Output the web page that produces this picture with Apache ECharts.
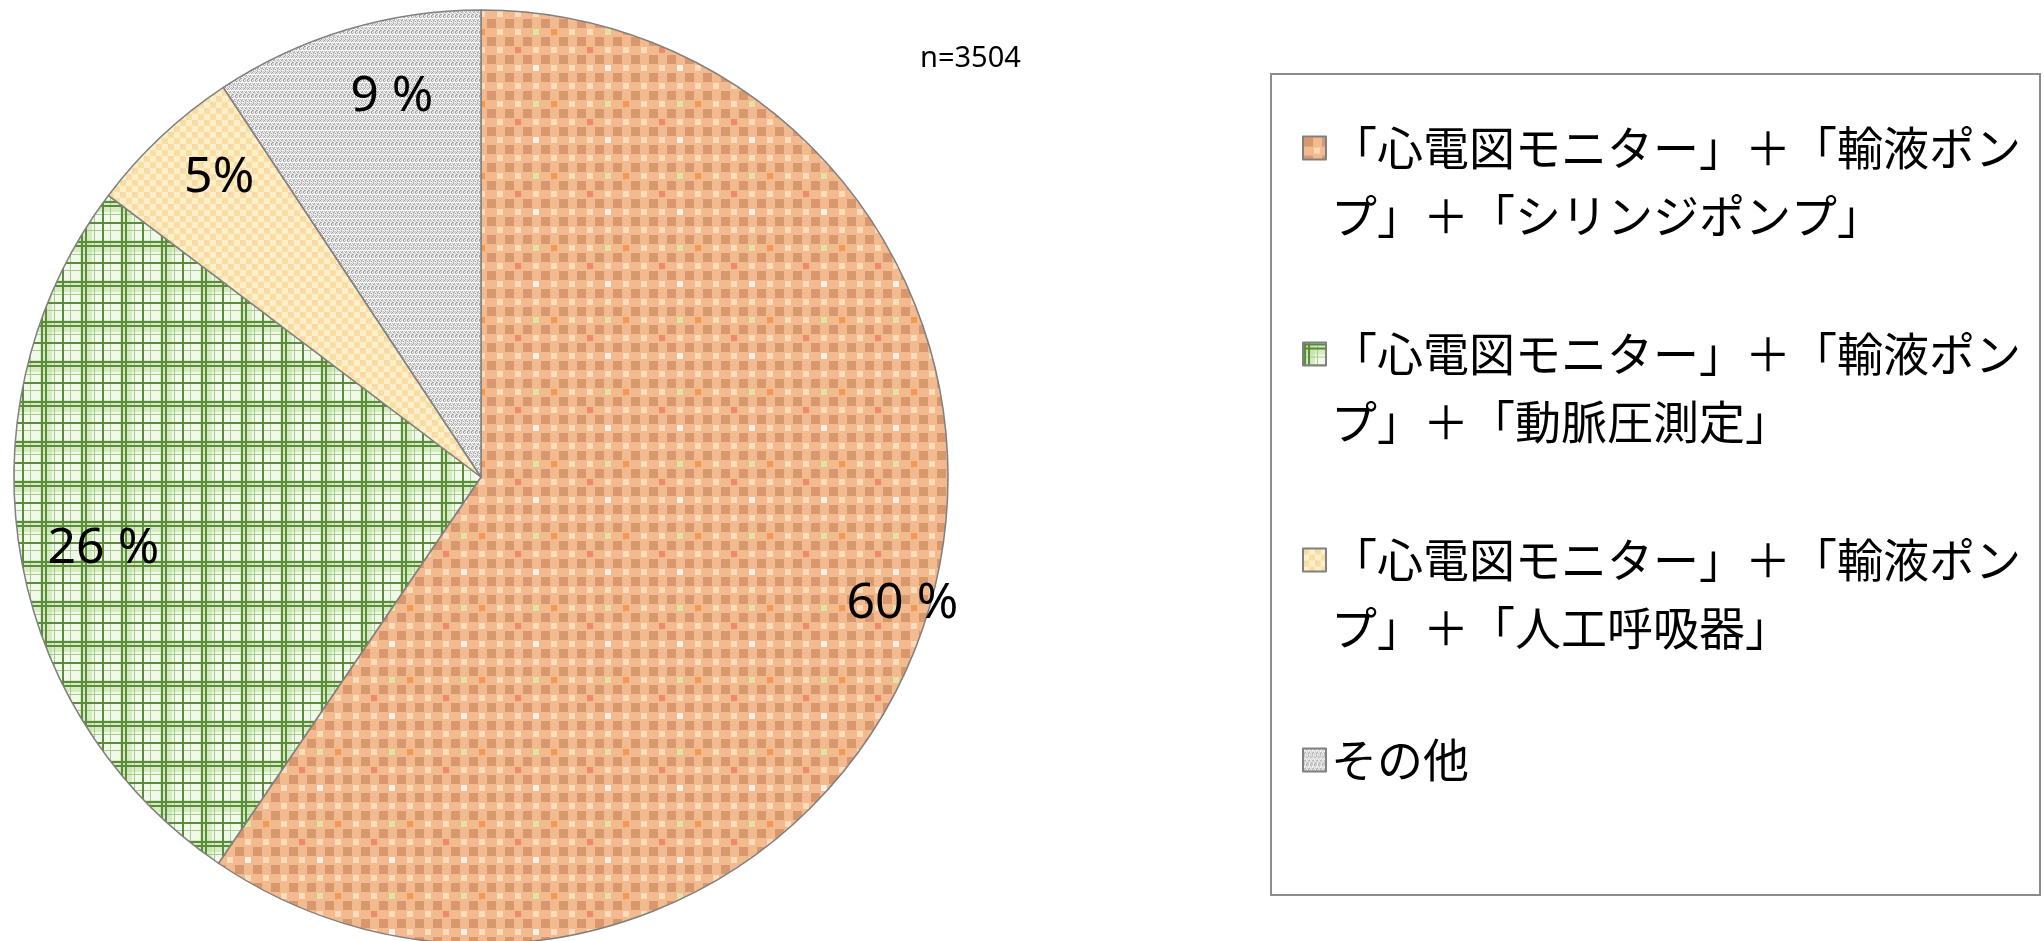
<!DOCTYPE html>
<html><head><meta charset="utf-8">
<script src="https://cdn.jsdelivr.net/npm/echarts@6/dist/echarts.min.js"></script>
<style>html,body{margin:0;padding:0;background:#fff}#c{width:2044px;height:941px}</style>
</head><body><div id="c"></div>
<script>
const categories = [
  '「心電図モニター」＋「輸液ポンプ」＋「シリンジポンプ」',
  '「心電図モニター」＋「輸液ポンプ」＋「動脈圧測定」',
  '「心電図モニター」＋「輸液ポンプ」＋「人工呼吸器」',
  'その他'
];
const values = [59.5, 25.8, 5.4, 9.3];
const valueLabels = ['60 %', '26 %', '5%', '9 %'];
const sampleNote = 'n=3504';
// label nudges (style only)
const labelOffsets = [[39, 9], [17, 7], [12, -8], [26, 3]];

function tile(w, h, draw) {
  const c = document.createElement('canvas');
  c.width = w; c.height = h;
  draw(c.getContext('2d'));
  return c;
}
const orangeTile = tile(72, 72, g => {
  g.fillStyle = '#f3b98f'; g.fillRect(0, 0, 72, 72);
  const accents = ['#fcdcba', '#fcdcba', '#f08a6a', '#fcdcba', '#fcdcba', '#dfe3a4', '#fcdcba', '#fff0e8', '#fcdcba', '#f39a52', '#fcdcba', '#fcdcba', '#fcdcba', '#fcdcba', '#fcdcba', '#fcdcba'];
  for (let i = 0; i < 4; i++) for (let j = 0; j < 4; j++) {
    g.fillStyle = '#d8986e'; g.fillRect(i * 18 + 1, j * 18 + 1, 9, 9);
    g.fillStyle = accents[i * 4 + j]; g.fillRect(i * 18 + 11, j * 18 + 11, 6, 6);
  }
});
const greenTile = tile(40, 40, g => {
  g.fillStyle = '#f1faea'; g.fillRect(0, 0, 40, 40);
  g.fillStyle = 'rgba(190,222,160,0.55)'; g.fillRect(0, 0, 12, 40); g.fillRect(0, 0, 40, 12);
  g.fillStyle = '#a6ca88'; [14, 30].forEach(p => { g.fillRect(p, 0, 1, 40); g.fillRect(0, p, 40, 1); });
  g.fillStyle = '#5a8a3a'; [1, 5, 22].forEach(p => { g.fillRect(p, 0, 2, 40); g.fillRect(0, p, 40, 2); });
});
const yellowTile = tile(12, 12, g => {
  g.fillStyle = '#fdf0c8'; g.fillRect(0, 0, 12, 12);
  g.fillStyle = '#f8dea2'; g.fillRect(0, 0, 6, 6); g.fillRect(6, 6, 6, 6);
  g.fillStyle = '#f9d4b4'; g.fillRect(0, 0, 3, 3);
});
const greyTile = tile(16, 16, g => {
  const m = [
    '0213021302130213','3102310231023102','0000000000000000','2031203120312031',
    '1320132013201320','0213021302130213','2200220022002200','0312031203120312',
    '3021302130213021','1203120312031203','0000000000000000','2130213021302130',
    '0321032103210321','1012101210121012','3300330033003300','2103210321032103'];
  const cols = ['#f8f8f8', '#e2e2e2', '#c6c6c6', '#a2a2a2'];
  for (let y = 0; y < 16; y++) for (let x = 0; x < 16; x++) {
    g.fillStyle = cols[+m[y][x]]; g.fillRect(x, y, 1, 1);
  }
});
const fills = [orangeTile, greenTile, yellowTile, greyTile].map(t => ({ image: t, repeat: 'repeat' }));

const pieData = categories.map((n, i) => ({ name: n, value: values[i], itemStyle: { color: fills[i] } }));
const labelData = categories.map((n, i) => ({ name: n, value: values[i], label: { offset: labelOffsets[i] } }));

const chart = echarts.init(document.getElementById('c'), null, { renderer: 'canvas' });
const LH = 68, FS = 46;
const legendFont = {
  fontFamily: 'Noto Sans CJK JP', fontSize: FS, lineHeight: LH, color: '#000',
  rich: { t: { fontFamily: 'Noto Sans CJK JP', fontSize: FS, lineHeight: LH, color: '#000' } }
};
chart.setOption({
  animation: false,
  title: {
    text: sampleNote, left: 915, top: 39,
    textStyle: { fontFamily: 'Noto Sans', fontSize: 29, fontWeight: 'normal', color: '#000' }
  },
  legend: {
    orient: 'vertical', left: 1297, top: 41, itemGap: 2,
    itemWidth: 23, itemHeight: 23, selectedMode: false,
    data: categories.map((n, i) => ({
      name: n, icon: 'rect',
      textStyle: Object.assign({}, legendFont, { padding: i === categories.length - 1 ? [62, 0, 62, 0] : [LH, 0, 0, 0] })
    })),
    formatter: n => (n.length > 15 ? [n.slice(0, 15), n.slice(15)] : [n]).map(s => '{t|' + s + '}').join('\n'),
    textStyle: legendFont
  },
  graphic: [{
    type: 'rect', shape: { x: 1271, y: 74, width: 769, height: 821 },
    style: { fill: 'none', stroke: '#8c8c8c', lineWidth: 2 }, silent: true
  }],
  series: [{
    type: 'pie', center: [481, 477], radius: 467, startAngle: 90, clockwise: true,
    silent: true, label: { show: false }, labelLine: { show: false },
    itemStyle: { borderColor: '#808080', borderWidth: 1.5 },
    data: pieData
  }, {
    type: 'pie', center: [481, 477], radius: [327, 467], startAngle: 90, clockwise: true,
    silent: true, itemStyle: { color: 'transparent', borderWidth: 0 },
    label: {
      show: true, position: 'inside', color: '#000', fontFamily: 'Noto Sans', fontSize: 50,
      formatter: p => valueLabels[p.dataIndex]
    },
    labelLine: { show: false },
    data: labelData
  }]
});
</script></body></html>
